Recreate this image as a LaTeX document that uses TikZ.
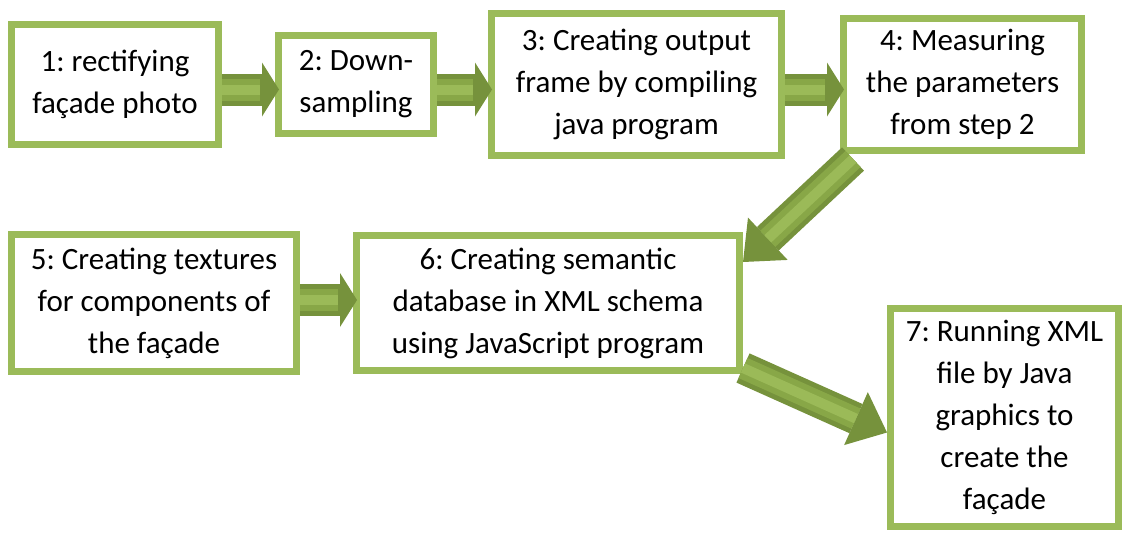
\documentclass[tikz,border=0pt]{standalone}
\usepackage{fontspec}
\setmainfont{Carlito}
\usetikzlibrary{positioning, arrows.meta}
\definecolor{boxgreen}{HTML}{9BBB59}
\definecolor{arrowdark}{HTML}{76923C}
\definecolor{arrowmid}{HTML}{88A747}
\definecolor{arrowlight}{HTML}{9BBA58}
\frenchspacing
\tikzset{
  process/.style={rectangle, draw=boxgreen, line width=7pt, fill=white, align=center, inner sep=0pt},
  arrow/.style={draw=arrowdark, line width=32pt, -{Triangle[length=17pt, width=54pt, line width=0pt]}, shorten >=-4pt,
    postaction={draw=arrowmid, line width=22pt, -, shorten >=15pt},
    postaction={draw=arrowlight, line width=10pt, -, shorten >=15pt}},
  slantarrow/.style={draw=arrowdark, line width=32pt, -{Triangle[length=34pt, width=58pt, line width=0pt]},
    postaction={draw=arrowmid, line width=22pt, -, shorten >=34pt},
    postaction={draw=arrowlight, line width=10pt, -, shorten >=34pt}}
}

\begin{document}
\begin{tikzpicture}[x=1pt, y=1pt, node distance=53pt, every node/.style={font=\fontsize{31pt}{42pt}\selectfont}]
        \useasboundingbox (0,0) rectangle (1123,-533);

        % First row
        \node (b1) [process, minimum width=207pt, minimum height=120pt, anchor=north west] at (8,-21) {1: rectifying\\façade photo};
        \node (b2) [process, minimum width=155pt, minimum height=98pt, right=of b1] {2: Down-\\sampling};
        \node (b3) [process, minimum width=290pt, minimum height=142pt, right=51pt of b2] {3: Creating output\\frame by compiling\\java program};
        \node (b4) [process, minimum width=238pt, minimum height=132pt, right=55pt of b3] {4: Measuring\\the parameters\\from step 2};

        % Second row
        \node (b5) [process, minimum width=285pt, minimum height=137pt, below=83pt of b1.south west, anchor=north west] {5: Creating textures\\for components of\\the façade};
        \node (b6) [process, minimum width=383pt, minimum height=135pt, right=of b5] {6: Creating semantic\\database in XML schema\\using JavaScript program};

        % Last step
        \node (b7) [process, minimum width=228pt, minimum height=218pt, below right=73pt and 144pt of b6.north east] {7: Running XML\\file by Java\\graphics to\\create the\\façade};

        % Arrows
        \draw [arrow] ([yshift=-5pt]b1.east) -- ([yshift=-5pt]b2.west);
        \draw [arrow] ([yshift=-5pt]b2.east) -- ([yshift=-5pt]b3.west);
        \draw [arrow] ([yshift=-5pt]b3.east) -- ([yshift=-5pt]b4.west);
        \draw [slantarrow] ([xshift=13pt,yshift=-5pt]b4.south west) -- ([yshift=-30pt]b6.north east);
        \draw [arrow] ([yshift=3pt]b5.east) -- ([yshift=3pt]b6.west);
        \draw [slantarrow] ([yshift=6pt]b6.south east) -- ([yshift=-15pt]b7.west);
\end{tikzpicture}
\end{document}
